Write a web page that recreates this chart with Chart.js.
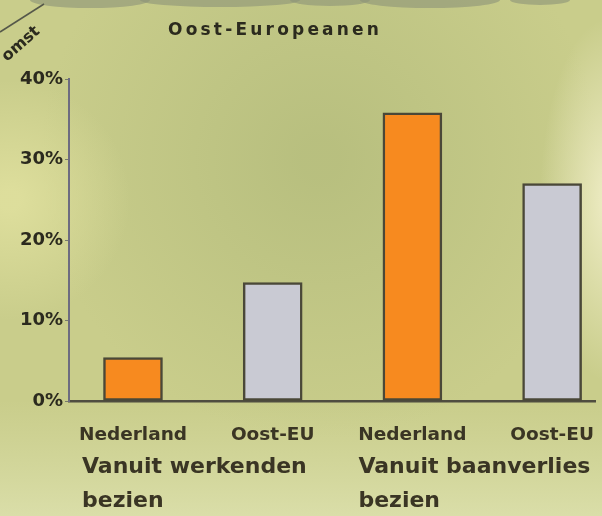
<!DOCTYPE html>
<html>
<head>
<meta charset="utf-8">
<script src="https://cdn.jsdelivr.net/npm/chart.js@4/dist/chart.umd.min.js"></script>
<style>
html,body{margin:0;padding:0;background:#c9cc8a;overflow:hidden;}
#wrap{position:relative;width:602px;height:516px;}
</style>
</head>
<body>
<div id="wrap"><canvas id="c" width="602" height="516"></canvas></div>
<script>
const categories = ['Nederland', 'Oost-EU', 'Nederland', 'Oost-EU'];
const groups = ['Vanuit werkenden', 'Vanuit baanverlies'];
const groupSub = ['bezien', 'bezien'];
const values = [5.4, 14.7, 35.8, 27.0];
const barColors = ['#f78a1f', '#c9cad3', '#f78a1f', '#c9cad3'];
const yTicks = [0, 10, 20, 30, 40];
const title = 'Oost-Europeanen';
const cornerText = 'omst';

const bgPlugin = {
  id: 'bg',
  beforeDraw(chart) {
    const ctx = chart.ctx, W = chart.width, H = chart.height;
    ctx.save();
    ctx.fillStyle = '#c9cd8b';
    ctx.fillRect(0, 0, W, H);
    let g = ctx.createRadialGradient(320, 160, 20, 320, 160, 280);
    g.addColorStop(0, 'rgba(180,188,124,0.8)');
    g.addColorStop(1, 'rgba(180,188,124,0)');
    ctx.fillStyle = g; ctx.fillRect(0, 0, W, H);
    // soft light band on the right
    ctx.save();
    ctx.translate(610, 200);
    ctx.scale(1, 2.6);
    g = ctx.createRadialGradient(0, 0, 5, 0, 0, 70);
    g.addColorStop(0, 'rgba(238,236,196,0.95)');
    g.addColorStop(1, 'rgba(238,236,196,0)');
    ctx.fillStyle = g; ctx.fillRect(-80, -80, 160, 160);
    ctx.restore();
    g = ctx.createRadialGradient(10, 200, 10, 10, 200, 120);
    g.addColorStop(0, 'rgba(226,226,160,0.8)');
    g.addColorStop(1, 'rgba(226,226,160,0)');
    ctx.fillStyle = g; ctx.fillRect(0, 0, W, H);
    g = ctx.createLinearGradient(0, 400, 0, 516);
    g.addColorStop(0, 'rgba(218,222,168,0)');
    g.addColorStop(1, 'rgba(222,226,176,0.8)');
    ctx.fillStyle = g; ctx.fillRect(0, 400, W, 116);
    ctx.fillStyle = 'rgba(140,146,120,0.6)';
    [[90,0,60,8],[220,0,80,7],[330,0,40,6],[430,0,70,8],[540,0,30,5]].forEach(e => {
      ctx.beginPath(); ctx.ellipse(e[0], e[1], e[2], e[3], 0, 0, Math.PI * 2); ctx.fill();
    });
    ctx.restore();
  },
  afterDraw(chart) {
    const ctx = chart.ctx, x = chart.scales.x;
    ctx.save();
    ctx.fillStyle = '#2b2a1e';
    ctx.font = 'bold 17px "DejaVu Sans"';
    ctx.letterSpacing = '3.2px';
    ctx.textAlign = 'left'; ctx.textBaseline = 'middle';
    ctx.fillText(title, 168, 31);
    ctx.letterSpacing = '0px';
    ctx.font = 'bold 22px "DejaVu Sans"';
    ctx.fillStyle = '#3a3524';
    const gx = [x.getPixelForValue(0) - 51, x.getPixelForValue(2) - 54];
    gx.forEach((px, i) => {
      ctx.fillText(groups[i], px, 467);
      ctx.fillText(groupSub[i], px, 501);
    });
    ctx.translate(21, 44);
    ctx.rotate(-0.72);
    ctx.font = 'bold 16px "DejaVu Sans"';
    ctx.fillStyle = '#2b2a1e';
    ctx.textAlign = 'center';
    ctx.fillText(cornerText, 0, 0);
    ctx.restore();
    ctx.save();
    ctx.strokeStyle = '#55584a'; ctx.lineWidth = 1.5;
    ctx.beginPath(); ctx.moveTo(0, 32); ctx.lineTo(44, 4); ctx.stroke();
    ctx.restore();
  }
};

new Chart(document.getElementById('c'), {
  type: 'bar',
  data: {
    datasets: [{
      data: values.map((v, i) => ({ x: i, y: v })),
      backgroundColor: barColors,
      borderColor: '#4a4838',
      borderWidth: 2.5,
      borderSkipped: false,
      barThickness: 59
    }]
  },
  options: {
    responsive: false,
    animation: false,
    layout: { padding: { top: 79, right: 7, left: 0, bottom: 0 } },
    plugins: { legend: { display: false }, tooltip: { enabled: false }, title: { display: false } },
    scales: {
      x: {
        type: 'linear',
        offset: false,
        min: -0.458, max: 3.307,
        afterFit(s) { s.height = 115; s.paddingLeft = 0; s.paddingRight = 0; },
        afterBuildTicks(s) { s.ticks = categories.map((c, i) => ({ value: i })); },
        ticks: {
          callback: (v) => categories[v],
          font: { family: 'DejaVu Sans', size: 18.5, weight: 'bold' },
          color: '#3a3524',
          padding: 15,
          maxRotation: 0, autoSkip: false
        },
        grid: { display: false },
        border: { display: true, color: '#4f4d40', width: 2.5 }
      },
      y: {
        min: 0, max: 40,
        afterFit(s) { s.width = 69; s.paddingTop = 0; s.paddingBottom = 0; },
        afterBuildTicks(s) { s.ticks = yTicks.map(v => ({ value: v })); },
        ticks: {
          callback: (v) => v + '%',
          font: { family: 'DejaVu Sans', size: 18, weight: 'bold' },
          color: '#2b2a1e',
          padding: 2
        },
        grid: { drawOnChartArea: false, tickLength: 4, color: '#777a6a' },
        border: { display: true, color: '#6d6c80', width: 2 }
      }
    }
  },
  plugins: [bgPlugin]
});
</script>
</body>
</html>
